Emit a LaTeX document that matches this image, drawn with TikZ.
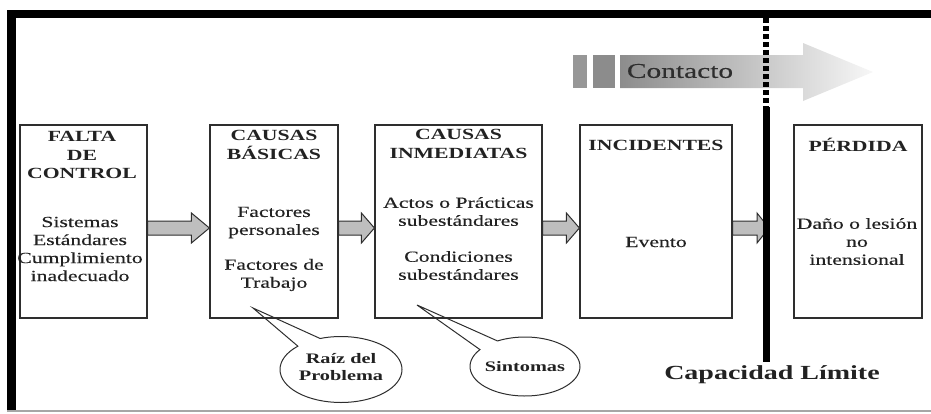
\documentclass[tikz,border=0pt]{standalone}
\usepackage{fontspec}
\setmainfont{Liberation Serif}[FakeStretch=1.4, UprightFeatures={FakeBold=0.3}]
\usetikzlibrary{calc}

\definecolor{edge}{HTML}{2E2E2E}
\definecolor{ink}{HTML}{222222}
\definecolor{arrowfill}{HTML}{BEBEBE}
\definecolor{barfill}{HTML}{8C8C8C}

% block arrow between two anchors: #1 start, #2 tip, #3 head length
\newcommand\flowarrow[3]{%
  \draw[flow] ($(#1)+(0,-0.5)$) -- ($(#2)+(-#3,-0.5)$) -- ($(#2)+(-#3,-8.5)$)
    -- ($(#2)+(0,6.5)$) -- ($(#2)+(-#3,21.5)$) -- ($(#2)+(-#3,13.5)$)
    -- ($(#1)+(0,13.5)$) -- cycle;}

\begin{document}
\begin{tikzpicture}[x=1pt,y=-1pt,
  stagebox/.style={draw=edge, line width=1.2pt, fill=white, inner sep=0pt,
    minimum height=193pt},
  title/.style={font=\fontsize{15.5}{18.5}\selectfont\bfseries, align=center,
    inner sep=0pt, text=ink},
  body/.style={font=\fontsize{15.5}{18}\selectfont, align=center,
    inner sep=0pt, text=ink},
  flow/.style={draw=edge, line width=1pt, fill=arrowfill, line join=miter},
  bubble/.style={draw=edge, line width=1pt},
  bubbletext/.style={font=\fontsize{14.5}{17}\selectfont\bfseries, align=center,
    inner sep=0pt, text=ink}]

\useasboundingbox (0,0) rectangle (931,413);

% frame
\fill[black] (7,10) rectangle (931,18);
\fill[black] (7,10) rectangle (16,411);
\draw[black!35, line width=1.5pt] (7,411) -- (931,411);

% "Contacto" arrow
\fill[barfill!90!white] (573,55) rectangle (587,88);
\fill[barfill] (593,55) rectangle (615,88);
\shade[left color=black!45, right color=black!3]
  (620,55) -- (803,55) -- (803,43) -- (873,72) -- (803,101) -- (803,88)
  -- (620,88) -- cycle;
\node[font=\fontsize{21}{24}\selectfont, text=black!82, inner sep=0pt]
  (contacto) at (680,71) {Contacto};

% stages
\node[stagebox, minimum width=127pt] (b1) at (83.5,221.5) {};
\node[stagebox, minimum width=128pt] (b2) at (274,221.5) {};
\node[stagebox, minimum width=167pt] (b3) at (458.5,221.5) {};
\node[stagebox, minimum width=152pt] (b4) at (656,221.5) {};
\node[stagebox, minimum width=128pt] (b5) at (858,221.5) {};

\node[title] (t1) at (82,155) {FALTA\\DE\\CONTROL};
\node[body] (d1) at (80,249) {Sistemas\\Estándares\\Cumplimiento\\inadecuado};

\node[title] (t2) at (274,145) {CAUSAS\\BÁSICAS};
\node[body] (d2a) at (274,222.5) {Factores\\personales};
\node[body] (d2b) at (274,275) {Factores de\\Trabajo};

\node[title] (t3) at (458.5,144) {CAUSAS\\INMEDIATAS};
\node[body] (d3a) at (458.5,211.5) {Actos o Prácticas\\subestándares};
\node[body] (d3b) at (458.5,265.5) {Condiciones\\subestándares};

\node[title] (t4) at (656,145) {INCIDENTES};
\node[body] (d4) at (656,242) {Evento};

\node[title] (t5) at (858,145) {PÉRDIDA};
\node[body] (d5) at (857,241.5) {Daño o lesión\\no\\intensional};

% flow between stages
\coordinate (limit) at (769,221.5);
\flowarrow{b1.east}{b2.west}{18}
\flowarrow{b2.east}{b3.west}{13}
\flowarrow{b3.east}{b4.west}{13}
\flowarrow{b4.east}{limit}{12}

% capacity limit line
\coordinate (cap-top) at (766,18);
\coordinate (cap-mid) at (766,107);
\coordinate (cap-bot) at (766,362);
\draw[black, line width=6pt, dash pattern=on 5pt off 3pt] (cap-top) -- (cap-mid);
\draw[black, line width=7pt] (cap-mid) -- (cap-bot);
\node[font=\fontsize{20}{24}\selectfont\bfseries, inner sep=0pt, text=ink]
  (caplabel) at (772,375) {Capacidad Límite};

% callouts
\coordinate (raiz-tip) at (253,308);
\coordinate (raiz-c) at (341,369.5);
\fill[white] (raiz-c) ellipse [x radius=61, y radius=33];
\draw[bubble] (raiz-tip) -- ($(raiz-c)+(225:61 and 33)$)
  arc[start angle=225, end angle=-110, x radius=61, y radius=33] -- cycle;
\node[bubbletext] (raiz) at (341,367) {Raíz del\\Problema};

\coordinate (sint-tip) at (417,305);
\coordinate (sint-c) at (525,366.5);
\fill[white] (sint-c) ellipse [x radius=55, y radius=29.5];
\draw[bubble] (sint-tip) -- ($(sint-c)+(215:55 and 29.5)$)
  arc[start angle=215, end angle=-120, x radius=55, y radius=29.5] -- cycle;
\node[bubbletext] (sint) at (525,367) {Sintomas};

\end{tikzpicture}
\end{document}
